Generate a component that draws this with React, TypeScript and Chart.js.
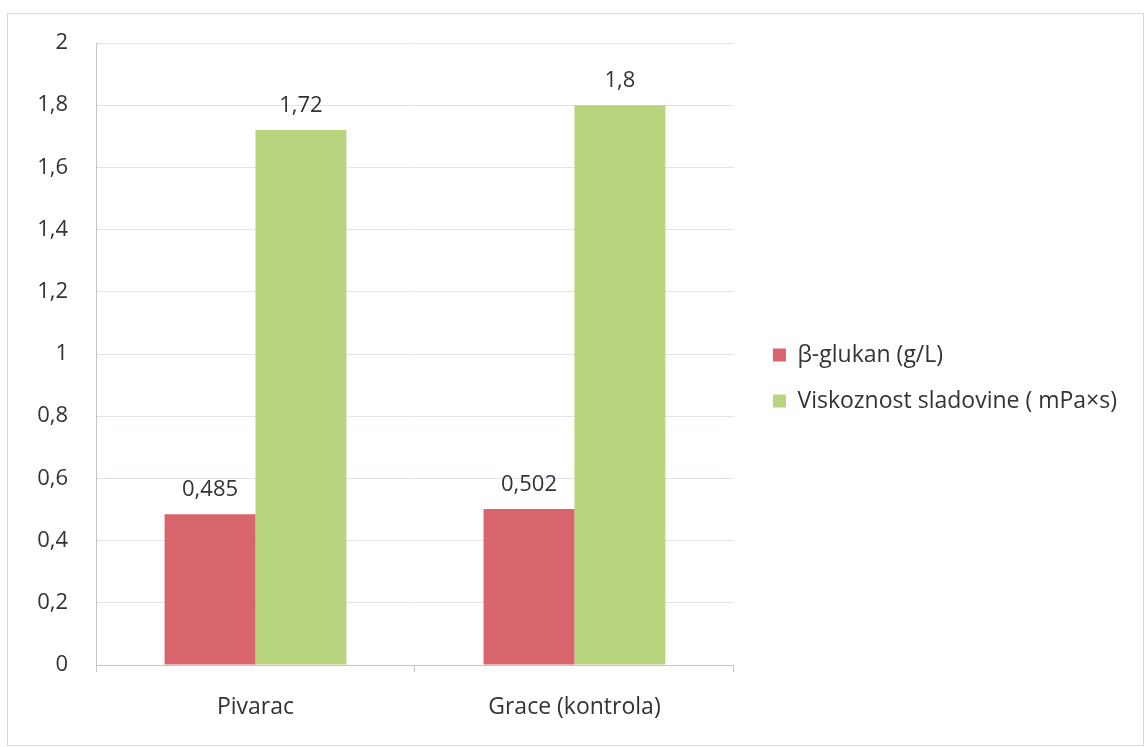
import React, { useEffect, useRef } from "react";
import { Chart, registerables } from "chart.js";

Chart.register(...registerables);

const categories = ["Pivarac", "Grace (kontrola)"];
const betaGlukan = [0.485, 0.502];
const viskoznost = [1.72, 1.8];
const seriesLabels = ["β-glukan (g/L)", "Viskoznost sladovine ( mPa×s)"];
const seriesColors = ["#d8656e", "#b8d47e"];
const yMin = 0;
const yMax = 2;
const yStep = 0.2;

const FONT = "'Open Sans', Lato, sans-serif";

const fmt = (v: number) => String(Math.round(v * 1000) / 1000).replace(".", ",");

const dataLabelPlugin = {
  id: "dataLabels",
  afterDatasetsDraw(chart: any) {
    const ctx = chart.ctx;
    ctx.save();
    ctx.font = `22px ${FONT}`;
    ctx.fillStyle = "#333333";
    ctx.textAlign = "center";
    ctx.textBaseline = "alphabetic";
    chart.data.datasets.forEach((ds: any, di: number) => {
      const meta = chart.getDatasetMeta(di);
      meta.data.forEach((el: any, i: number) => {
        ctx.fillText(fmt(ds.data[i]), el.x, el.y - 18);
      });
    });
    ctx.restore();
  },
};

export default function App() {
  const ref = useRef<HTMLCanvasElement>(null);

  useEffect(() => {
    document.body.style.margin = "0";
    const canvas = ref.current;
    if (!canvas) return;
    const chart = new Chart(canvas, {
      type: "bar",
      data: {
        labels: categories,
        datasets: [
          {
            label: seriesLabels[0],
            data: betaGlukan,
            backgroundColor: seriesColors[0],
            categoryPercentage: 0.57,
            barPercentage: 1,
          },
          {
            label: seriesLabels[1],
            data: viskoznost,
            backgroundColor: seriesColors[1],
            categoryPercentage: 0.57,
            barPercentage: 1,
          },
        ],
      },
      options: {
        responsive: false,
        animation: false,
        devicePixelRatio: 1,
        layout: { padding: { top: 43, left: 0, right: 18, bottom: 0 } },
        plugins: {
          tooltip: { enabled: false },
          legend: {
            position: "right",
            fullSize: false,
            maxWidth: 460,
            title: {
              display: true,
              text: " ",
              font: { size: 10, lineHeight: 1 },
              padding: { top: 38, bottom: 0 },
            },
            labels: {
              boxWidth: 13,
              boxHeight: 13,
              padding: 23,
              color: "#333333",
              font: { family: FONT, size: 23 },
            },
          },
        },
        scales: {
          x: {
            grid: {
              offset: true,
              drawOnChartArea: false,
              drawTicks: true,
              tickLength: 7,
              color: "#c4c4c4",
            },
            border: { color: "#c4c4c4" },
            ticks: {
              padding: 22,
              color: "#333333",
              font: { family: FONT, size: 23 },
            },
            afterFit: (s: any) => {
              s.height = 82;
            },
          },
          y: {
            min: yMin,
            max: yMax,
            grid: { color: "#dfe4ec", drawTicks: false },
            border: { color: "#c4c4c4" },
            ticks: {
              stepSize: yStep,
              padding: 28,
              color: "#333333",
              font: { family: FONT, size: 22 },
              callback: (v: any) => fmt(Number(v)),
            },
            afterFit: (s: any) => {
              s.width = 96;
            },
          },
          spacer: {
            type: "linear",
            position: "right",
            display: true,
            grid: { display: false },
            ticks: { display: false },
            border: { display: false },
            afterFit: (s: any) => {
              s.width = 16;
            },
          },
        },
      },
      plugins: [dataLabelPlugin],
    } as any);
    return () => chart.destroy();
  }, []);

  return (
    <div style={{ position: "relative", width: 1145, height: 747, background: "#ffffff" }}>
      <canvas ref={ref} width={1145} height={747} style={{ display: "block" }} />
      <div
        style={{
          position: "absolute",
          left: 7,
          top: 13,
          width: 1135,
          height: 731,
          border: "1px solid #d9d9d9",
          pointerEvents: "none",
        }}
      />
    </div>
  );
}
